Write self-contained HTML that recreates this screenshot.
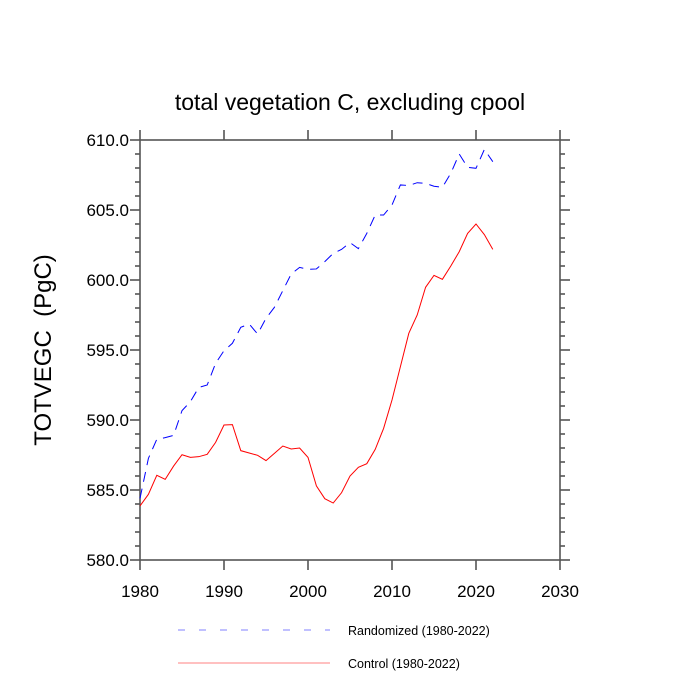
<!DOCTYPE html>
<html><head><meta charset="utf-8"><style>
body{margin:0;background:#fff;}
svg{display:block;font-family:"Liberation Sans",sans-serif;}
</style></head><body>
<svg id="chart" width="700" height="700">
<text x="350" y="110" text-anchor="middle" font-size="23">total vegetation C, excluding cpool</text>
<text transform="translate(51,350) rotate(-90)" text-anchor="middle" font-size="24">TOTVEGC&#160; (PgC)</text>
<g id="axes"></g>
<g id="series"></g>
<g>
<line x1="178" y1="630" x2="330" y2="630" stroke="#8080ff" stroke-width="1" stroke-dasharray="7,14"/>
<text x="348" y="635" font-size="12.5">Randomized (1980-2022)</text>
<line x1="178" y1="663" x2="330" y2="663" stroke="#ff8080" stroke-width="1"/>
<text x="348" y="668" font-size="12.5">Control (1980-2022)</text>
</g>
</svg>
<script>
const years = [];
for (let y = 1980; y <= 2022; y++) years.push(y);
const controlValues = [583.86,584.69,586.05,585.76,586.71,587.52,587.33,587.38,587.55,588.4,589.64,589.67,587.81,587.64,587.48,587.1,587.62,588.14,587.93,588.0,587.33,585.29,584.38,584.07,584.81,586.0,586.62,586.88,587.9,589.4,591.43,593.81,596.19,597.5,599.48,600.33,600.05,601.0,602.02,603.33,604.0,603.24,602.19];
const randomizedValues = [584.4,587.26,588.62,588.74,588.9,590.67,591.31,592.33,592.5,594.05,594.95,595.48,596.62,596.86,596.14,597.26,598.05,599.24,600.43,600.9,600.76,600.79,601.31,601.9,602.19,602.67,602.24,603.33,604.64,604.64,605.36,606.79,606.75,606.95,606.9,606.7,606.62,607.62,609.0,608.05,607.98,609.33,608.45];
const xTicks = [1980,1990,2000,2010,2020,2030];
const yTicks = [580,585,590,595,600,605,610];

const L=140,R=560,T=140,B=560;
const xs = v => L + (v-1980)/(2030-1980)*(R-L);
const ys = v => B - (v-580)/(610-580)*(B-T);
const NS="http://www.w3.org/2000/svg";
function mk(tag, attrs, parent){const e=document.createElementNS(NS,tag);for(const k in attrs)e.setAttribute(k,attrs[k]);parent.appendChild(e);return e;}
const ax=document.getElementById('axes');
const sr=document.getElementById('series');
const gc="#555";
const frame=mk('rect',{x:L,y:T,width:R-L,height:B-T,fill:'none',stroke:gc,'stroke-width':1.6},ax);


xTicks.forEach(t=>{
  const x=xs(t);
  mk('line',{x1:x,y1:B,x2:x,y2:B+10,stroke:gc,'stroke-width':1.6},ax);
  mk('line',{x1:x,y1:T,x2:x,y2:T-10,stroke:gc,'stroke-width':1.6},ax);
  const tx=mk('text',{x:x,y:B+37,'text-anchor':'middle','font-size':17},ax);
  tx.textContent=t;
  
  
});
for(let v=580; v<=610.001; v+=1){
  const y=ys(v); const major=Math.abs(v%5)<1e-6;
  const len=major?10:5;
  mk('line',{x1:L,y1:y,x2:L-len,y2:y,stroke:gc,'stroke-width':1.6},ax);
  mk('line',{x1:R,y1:y,x2:R+len,y2:y,stroke:gc,'stroke-width':1.6},ax);
}
yTicks.forEach(t=>{
  const tx=mk('text',{x:L-11,y:ys(t)+6,'text-anchor':'end','font-size':17},ax);
  tx.textContent=t.toFixed(1);
  
  
});
const pts = vals => vals.map((v,i)=>xs(years[i]).toFixed(2)+','+ys(v).toFixed(2)).join(' ');
const rl=mk('polyline',{points:pts(randomizedValues),fill:'none',stroke:'#0000ff','stroke-width':1,'stroke-dasharray':'10,7'},sr);


const cl=mk('polyline',{points:pts(controlValues),fill:'none',stroke:'#ff0000','stroke-width':1},sr);


</script>
</body></html>
